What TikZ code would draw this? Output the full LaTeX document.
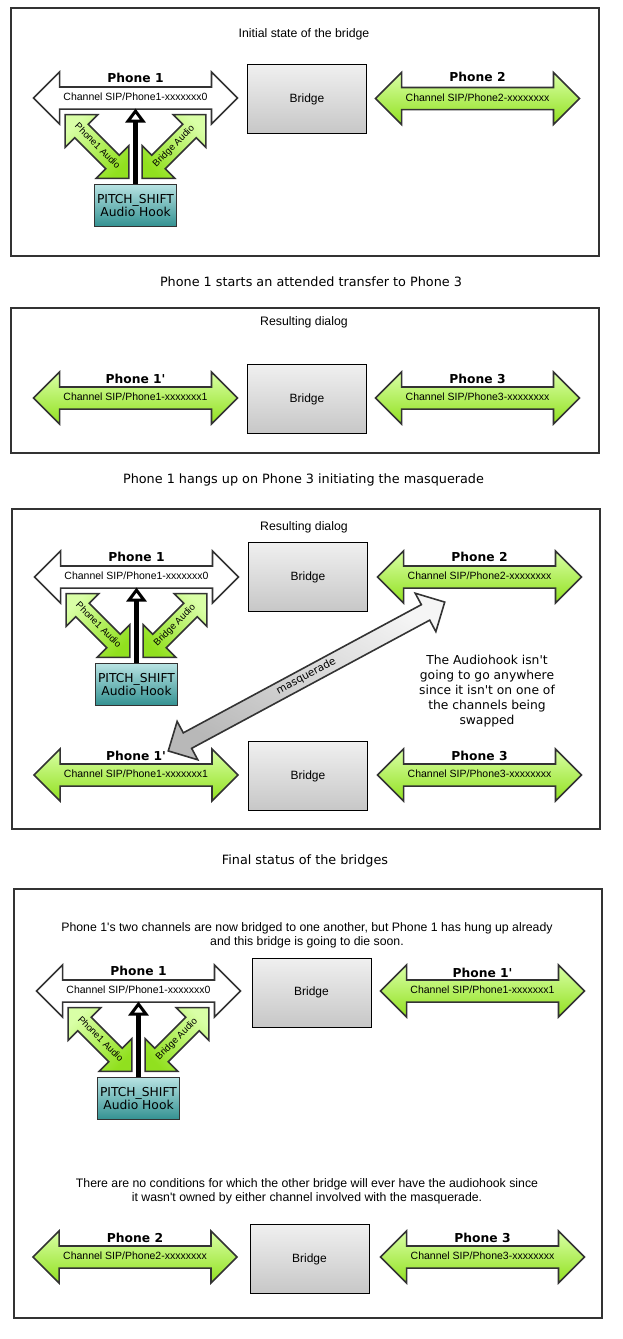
\documentclass[tikz,border=0pt]{standalone}
\usepackage{fontspec}
\setmainfont{DejaVu Sans}[Ligatures=TeXOff]
\newfontfamily\lib{Liberation Sans}[Ligatures=TeXOff]
\usetikzlibrary{shapes.arrows,arrows.meta}
\definecolor{linegray}{rgb}{0.2,0.2,0.2}
\definecolor{lightlime}{rgb}{0.85,1.0,0.65}
\definecolor{darklime}{rgb}{0.57,0.88,0.12}
\definecolor{lightteal}{rgb}{0.72,0.89,0.89}
\definecolor{darkteal}{rgb}{0.2,0.57,0.57}
\definecolor{lightsilver}{rgb}{0.94,0.94,0.94}
\definecolor{darksilver}{rgb}{0.78,0.78,0.78}
\tikzset{
    chan/.style={
        double arrow,
        draw=linegray,
        line width=1.6pt,
        double arrow head extend=15pt,
        double arrow tip angle=90,
        minimum height=204pt,
        inner xsep=2pt, inner ysep=5.5pt,
        text height=7.5pt, text depth=2pt,
        font=\lib\fontsize{10.5}{12}\selectfont
    },
    greenchan/.style={chan, top color=lightlime, bottom color=darklime},
    whitechan/.style={chan, fill=white},
    phonelbl/.style={font=\bfseries\fontsize{12.3}{14}\selectfont},
    bridgebox/.style={
        draw=black,
        line width=1pt,
        minimum width=119pt, minimum height=69pt,
        top color=lightsilver, bottom color=darksilver,
        font=\lib\fontsize{12}{14}\selectfont
    },
    hookbox/.style={
        draw=linegray,
        line width=1.6pt,
        minimum width=82pt, minimum height=42pt,
        inner sep=1pt,
        top color=lightteal, bottom color=darkteal,
        align=center,
        font=\fontsize{12.3}{13.5}\selectfont
    },
    audio/.style={
        double arrow,
        draw=linegray,
        line width=1.6pt,
        double arrow head extend=13.5pt,
        double arrow tip angle=90,
        minimum height=90pt,
        inner xsep=0pt, inner ysep=4.5pt,
        text height=6.5pt, text depth=2pt,
        top color=lightlime, bottom color=darklime,
        font=\lib\fontsize{9.5}{10}\selectfont
    },
    masq/.style={
        double arrow,
        draw=linegray,
        line width=1.6pt,
        double arrow head extend=13pt,
        double arrow tip angle=90,
        minimum height=314pt,
        inner xsep=0pt, inner ysep=3.5pt,
        text height=7pt, text depth=2pt,
        top color=white!96!black, bottom color=white!72!black,
        font=\fontsize{10.5}{12}\selectfont
    },
    hookline/.style={
        line width=4.5pt,
        -{Triangle[open, length=14pt, width=20pt, line width=3pt]}
    },
    panel/.style={draw=linegray, line width=1.8pt},
    caption/.style={font=\fontsize{12.8}{15}\selectfont},
    note/.style={font=\lib\fontsize{12.3}{14}\selectfont, align=center},
}

\begin{document}
\begin{tikzpicture}[x=1pt, y=-1pt]
    \useasboundingbox (0,0) rectangle (622,1339);

    % Initial state
    \draw[panel] (11,8) rectangle (599,256);
    \node[note] (title1) at (304,34) {Initial state of the bridge};
    \node[bridgebox] (br1) at (307,99) {Bridge};
    \node[greenchan] (ph2a) at (477.5,98.5) {Channel SIP/Phone2-xxxxxxxx};
    \node[phonelbl] (lbl2a) at (477.5,77) {Phone 2};

    \node[caption] (cap1) at (311,282) {Phone 1 starts an attended transfer to Phone 3};

    % Resulting dialog after the transfer
    \draw[panel] (11,308) rectangle (599,453);
    \node[note] (title2) at (304,322) {Resulting dialog};
    \node[greenchan] (ph1pb) at (135.5,398) {Channel SIP/Phone1-xxxxxxx1};
    \node[phonelbl] (lbl1pb) at (135.5,379) {Phone 1'};
    \node[bridgebox] (br2) at (307,399) {Bridge};
    \node[greenchan] (ph3b) at (477.5,398) {Channel SIP/Phone3-xxxxxxxx};
    \node[phonelbl] (lbl3b) at (477.5,379) {Phone 3};

    \node[caption] (cap2) at (303.5,480) {Phone 1 hangs up on Phone 3 initiating the masquerade};

    % Resulting dialog after the hangup
    \draw[panel] (12,509) rectangle (600,829);
    \node[note] (title3) at (304,527) {Resulting dialog};
    \node[bridgebox] (br3) at (308,577) {Bridge};
    \node[greenchan] (ph2c) at (479.5,577) {Channel SIP/Phone2-xxxxxxxx};
    \node[phonelbl] (lbl2c) at (479.5,557) {Phone 2};
    \node[greenchan] (ph1pc) at (136,775) {Channel SIP/Phone1-xxxxxxx1};
    \node[phonelbl] (lbl1pc) at (136,756) {Phone 1'};
    \node[bridgebox] (br4) at (308,776) {Bridge};
    \node[greenchan] (ph3c) at (479.5,775) {Channel SIP/Phone3-xxxxxxxx};
    \node[phonelbl] (lbl3c) at (479.5,756) {Phone 3};
    \node[masq, rotate=28.3, shading angle=-28.3] (swap) at (306.5,676.5) {masquerade};
    \node[align=center, font=\fontsize{12.3}{15}\selectfont] (hooknote) at (487,691)
      {The Audiohook isn't\\going to go anywhere\\since it isn't on one of\\the channels being\\swapped};

    \node[caption] (cap3) at (305,861) {Final status of the bridges};

    % Final status
    \draw[panel] (14,889) rectangle (602,1318);
    \node[note] (note1) at (307,935)
      {Phone 1's two channels are now bridged to one another, but Phone 1 has hung up already\\and this bridge is going to die soon.};
    \node[bridgebox] (br5) at (311.5,992.5) {Bridge};
    \node[greenchan] (ph1pe) at (482.5,991) {Channel SIP/Phone1-xxxxxxx1};
    \node[phonelbl] (lbl1pe) at (482.5,973) {Phone 1'};
    \node[note] (note2) at (307,1191.5)
      {There are no conditions for which the other bridge will ever have the audiohook since\\it wasn't owned by either channel involved with the masquerade.};
    \node[greenchan] (ph2f) at (135,1257) {Channel SIP/Phone2-xxxxxxxx};
    \node[phonelbl] (lbl2f) at (135,1238) {Phone 2};
    \node[bridgebox] (br6) at (309.5,1259) {Bridge};
    \node[greenchan] (ph3f) at (482.5,1257) {Channel SIP/Phone3-xxxxxxxx};
    \node[phonelbl] (lbl3f) at (482.5,1238) {Phone 3};

    % Phone 1 with its audio hook, in three places
    \foreach \n/\cx/\cy in {a/135.5/98, c/136.5/577, e/138.5/991}{
      \node[whitechan] (ph1\n) at (\cx,\cy) {Channel SIP/Phone1-xxxxxxx0};
      \node[phonelbl] (lbl1\n) at (\cx,\cy-20) {Phone 1};
      \node[audio, rotate=-45, shading angle=45] (pa\n) at (\cx-38.5,\cy+48.5) {\makebox[0pt]{Phone1 Audio}};
      \node[audio, rotate=45, shading angle=-45] (ba\n) at (\cx+38.5,\cy+48.5) {\makebox[0pt]{Bridge Audio}};
      \node[hookbox] (hk\n) at (\cx,\cy+107.5) {PITCH\_SHIFT\\Audio Hook};
      \coordinate (tap\n) at (\cx,\cy+10.5);
      \draw[hookline] (hk\n) -- (tap\n);
    }
\end{tikzpicture}
\end{document}
